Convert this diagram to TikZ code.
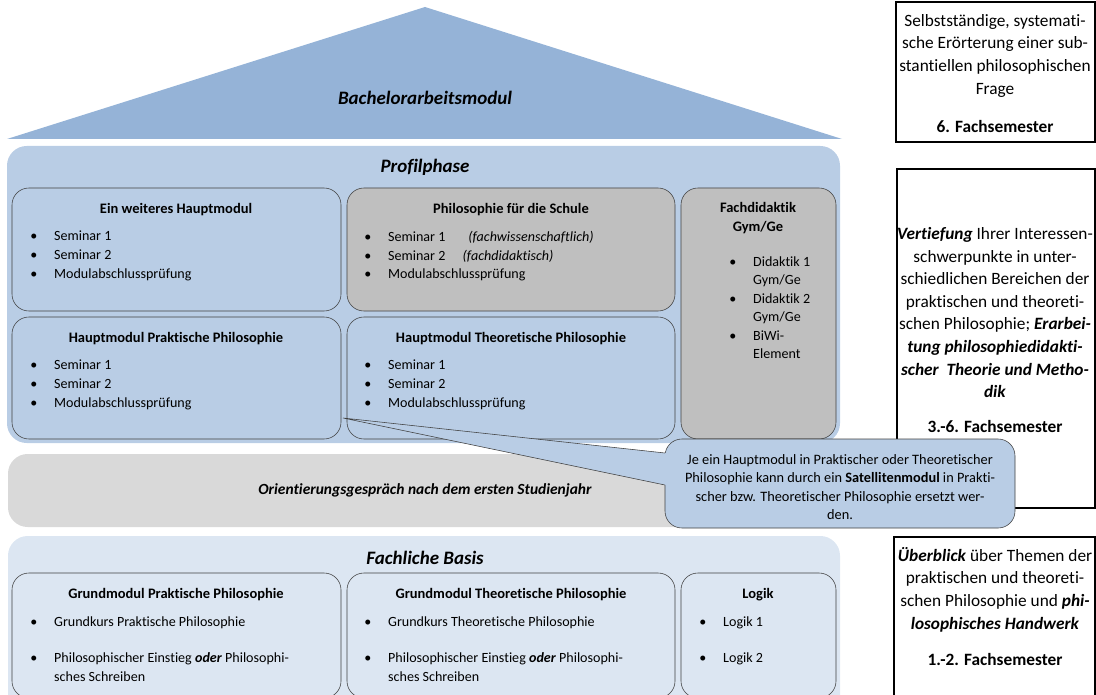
\documentclass[tikz,border=0pt]{standalone}
\usepackage{fontspec}
\setmainfont{Carlito}[Ligatures=NoCommon]
\usetikzlibrary{fit}
\definecolor{roofblue}{HTML}{95B3D7}
\definecolor{phaseblue}{HTML}{B9CDE5}
\definecolor{basisblue}{HTML}{DCE6F2}
\definecolor{modgray}{HTML}{BFBFBF}
\definecolor{bandgray}{HTML}{D9D9D9}
\definecolor{edgegray}{HTML}{404040}
\newcommand{\itm}[1]{\makebox[17pt][l]{\textbullet}#1}
\newcommand{\cnt}{\hspace*{17pt}}
\tikzset{
	phase/.style={rounded corners=14pt, inner sep=0pt},
	modbox/.style={draw=edgegray, line width=0.4pt, rounded corners=12pt, inner sep=0pt},
	semtitle/.style={font=\fontsize{13.5}{16}\selectfont\bfseries\itshape},
	modtitle/.style={font=\fontsize{10.3}{13.4}\selectfont\bfseries, align=center, inner sep=0pt},
	modbody/.style={font=\fontsize{10}{13.2}\selectfont, align=left, anchor=north west, inner sep=0pt},
	notebox/.style={draw=black, line width=0.9pt, inner sep=0pt},
	notetext/.style={font=\fontsize{12.3}{16.1}\selectfont, align=center, anchor=north, inner sep=0pt},
	sattext/.style={font=\fontsize{10.2}{13}\selectfont, align=center, inner sep=0pt}
}
\begin{document}
\begin{tikzpicture}[x=0.025cm, y=0.025cm]
	\useasboundingbox (0,0) rectangle (1096,-695);
	\clip (0,0) rectangle (1096,-695);
	% Dach
	\fill[roofblue] (7,-139) -- (425,-7) -- (842,-139) -- cycle;
	\node[semtitle] (bachelor) at (425,-98) {Bachelorarbeitsmodul};
	% Profilphase
	\node[phase, fill=phaseblue, fit={(7,-146) (840,-443)}] (profil) {};
	\node[semtitle] (profiltitle) at (425,-167) {Profilphase};
	\node[modbox, fit={(12,-188) (341,-311)}] (weiter) {};
	\node[modtitle] at (176,-210) {Ein weiteres Hauptmodul};
	\node[modbody] at (30,-231) {\itm{Seminar 1}\\ \itm{Seminar 2}\\ \itm{Modulabschlussprüfung}};
	\node[modbox, fill=modgray, fit={(347,-188) (675,-311)}] (schule) {};
	\node[modtitle] at (511,-210) {Philosophie für die Schule};
	\node[modbody] at (364,-231) {\itm{\makebox[57pt][l]{Seminar 1}\textit{(fachwissenschaftlich)}}\\
		\itm{\makebox[53pt][l]{Seminar 2}\textit{(fachdidaktisch)}}\\ \itm{Modulabschlussprüfung}};
	\node[modbox, fit={(12,-317) (341,-439)}] (praktisch) {};
	\node[modtitle] at (176,-339) {Hauptmodul Praktische Philosophie};
	\node[modbody] at (30,-360) {\itm{Seminar 1}\\ \itm{Seminar 2}\\ \itm{Modulabschlussprüfung}};
	\node[modbox, fit={(347,-317) (675,-439)}] (theoretisch) {};
	\node[modtitle] at (511,-339) {Hauptmodul Theoretische Philosophie};
	\node[modbody] at (364,-360) {\itm{Seminar 1}\\ \itm{Seminar 2}\\ \itm{Modulabschlussprüfung}};
	\node[modbox, fill=modgray, fit={(681,-188) (836,-439)}] (didaktik) {};
	\node[modtitle] at (758,-218) {Fachdidaktik\\ Gym/Ge};
	\node[modbody] at (729,-256) {\itm{Didaktik 1}\\ \cnt Gym/Ge\\ \itm{Didaktik 2}\\ \cnt Gym/Ge\\ \itm{BiWi-}\\ \cnt Element};
	% Orientierung
	\node[phase, fill=bandgray, fit={(8,-454) (840,-527)}] (orient) {};
	\node[font=\fontsize{11}{13}\selectfont\bfseries\itshape] (orienttitle) at (425,-490) {Orientierungsgespräch nach dem ersten Studienjahr};
	% Fachliche Basis
	\node[phase, fill=basisblue, fit={(8,-536) (840,-720)}] (basis) {};
	\node[semtitle] (basistitle) at (425,-558) {Fachliche Basis};
	\node[modbox, fit={(12,-573) (341,-698)}] (grundpr) {};
	\node[modtitle] at (176,-595) {Grundmodul Praktische Philosophie};
	\node[modbody] at (30,-616) {\itm{Grundkurs Praktische Philosophie}\\[12.8pt]
		\itm{Philosophischer Einstieg \textbf{\textit{oder}} Philosophi-}\\ \cnt sches Schreiben};
	\node[modbox, fit={(347,-573) (675,-698)}] (grundth) {};
	\node[modtitle] at (511,-595) {Grundmodul Theoretische Philosophie};
	\node[modbody] at (364,-616) {\itm{Grundkurs Theoretische Philosophie}\\[12.8pt]
		\itm{Philosophischer Einstieg \textbf{\textit{oder}} Philosophi-}\\ \cnt sches Schreiben};
	\node[modbox, fit={(681,-573) (836,-698)}] (logik) {};
	\node[modtitle] at (758,-595) {Logik};
	\node[modbody] at (699,-616) {\itm{Logik 1}\\[12.8pt] \itm{Logik 2}};
	% Semester
	\node[notebox, fit={(896,-2) (1095,-142)}] (sem6) {};
	\node[notetext] at (995,-14) {Selbstständige, systemati-\\ sche Erörterung einer sub-\\ stantiellen philosophischen\\ Frage\\[11pt] \textbf{6. Fachsemester}};
	\node[notebox, fit={(897,-169) (1095,-508)}] (sem36) {};
	\node[notetext] at (995,-227) {\textbf{\textit{Vertiefung}} Ihrer Interessen-\\ schwerpunkte in unter-\\ schiedlichen Bereichen der\\ praktischen und theoreti-\\
		schen Philosophie; \textbf{\textit{Erarbei-}}\\ \textbf{\textit{tung philosophiedidakti-}}\\ \textbf{\textit{scher\ \ Theorie und Metho-}}\\ \textbf{\textit{dik}}\\[8.7pt] \textbf{3.-6. Fachsemester}};
	\node[notebox, fit={(894,-537) (1095,-720)}] (sem12) {};
	\node[notetext] at (995,-547) {\textbf{\textit{Überblick}} über Themen der\\ praktischen und theoreti-\\ schen Philosophie und \textbf{\textit{phi-}}\\ \textbf{\textit{losophisches Handwerk}}\\[10pt] \textbf{1.-2. Fachsemester}};
	% Satellitenmodul
	\node[modbox, fill=phaseblue, fit={(665,-439) (1015,-528)}] (satbox) {};
	\node[sattext] at (840,-487) {Je ein Hauptmodul in Praktischer oder Theoretischer\\ Philosophie kann durch ein \textbf{Satellitenmodul} in Prakti-\\ scher bzw. Theoretischer Philosophie ersetzt wer-\\ den.};
	\coordinate (tip) at (343,-418);
	\coordinate (sata) at (665,-453);
	\coordinate (satb) at (665,-485);
	\fill[phaseblue] (sata) -- (tip) -- (satb) -- ([xshift=2pt]satb) -- ([xshift=2pt]sata) -- cycle;
	\draw[edgegray, line width=0.4pt] (sata) -- (tip) -- (satb);
\end{tikzpicture}
\end{document}
